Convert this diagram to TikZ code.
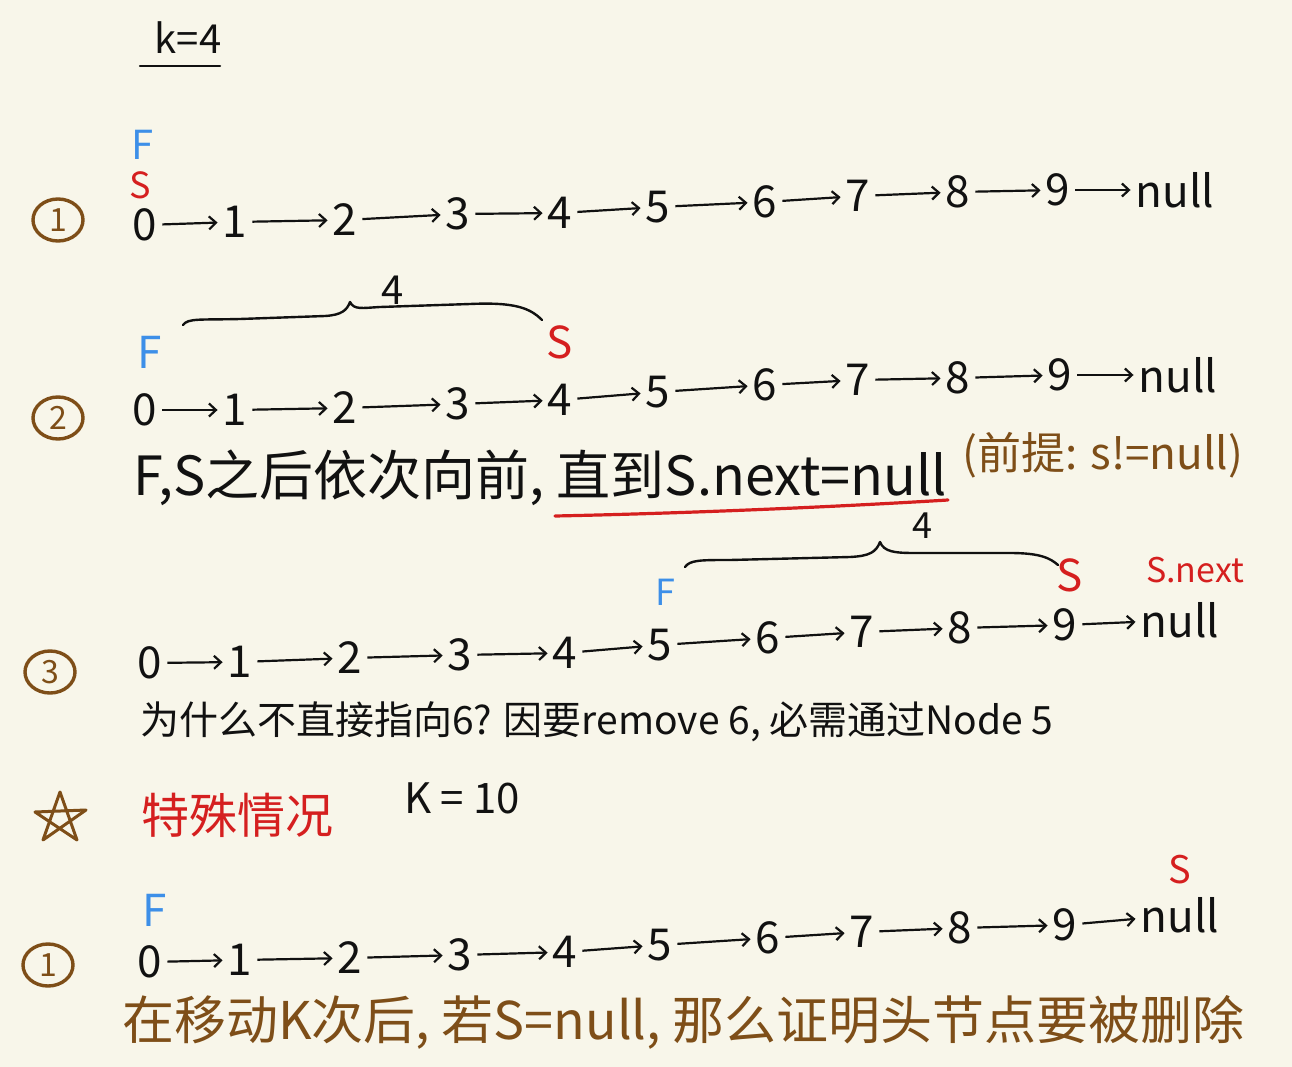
\documentclass[tikz,border=0pt]{standalone}
\usepackage{fontspec}
\setmainfont{Noto Sans CJK SC}
\usetikzlibrary{arrows.meta,shapes.geometric}
\definecolor{bg}{HTML}{F8F6EA}
\definecolor{fblue}{HTML}{3D8FE8}
\definecolor{sred}{HTML}{D51F1F}
\definecolor{brn}{HTML}{7E4E18}
\definecolor{ink}{HTML}{111111}
\newcommand\fsz[1]{\fontsize{#1}{#1}\selectfont}
\newcommand\linkedrow[2]{%
  \foreach \lab/\x/\y [count=\i from 0] in {#2} {\node[num] (#1\i) at (\x,\y) {\lab};}
  \foreach \i [evaluate=\i as \j using int(\i+1)] in {0,...,9} {\draw[link] (#1\i) -- (#1\j);}
}
\begin{document}
\begin{tikzpicture}[x=1pt,y=-1pt,
  num/.style={font=\fsz{44}, text=ink, inner sep=4pt},
  link/.style={line width=2.2pt, draw=ink, -{Straight Barb[length=7pt,width=13pt]}, shorten >=1pt, shorten <=1pt},
  stepnum/.style={ellipse, draw=brn, line width=3.4pt, minimum width=50pt, minimum height=42pt, inner sep=0pt, text=brn, font=\fsz{32}},
  fmark/.style={text=fblue, inner sep=0pt},
  smark/.style={text=sred, inner sep=0pt},
  bracepath/.style={line width=2.4pt, draw=ink, line cap=round, line join=round},
  note/.style={inner sep=0pt, anchor=west}]
\useasboundingbox (0,0) rectangle (1292,1067);
\fill[bg] (0,0) rectangle (1292,1067);

% k=4
\node[inner sep=0pt, font=\fsz{40}, text=ink] (ktitle) at (188,38) {k=4};
\draw[line width=2.5pt, ink, line cap=round] (140,66) -- (220,66);

% ---- row 1
\node[stepnum] (c1) at (58,220) {1};
\node[fmark, font=\fsz{40}] (f1) at (143,145) {F};
\node[smark, font=\fsz{36}] (s1) at (140,185) {S};
\linkedrow{ra}{0/145/225, 1/235/222, 2/345/220, 3/458/214, 4/560/213, 5/658/207, 6/765/202, 7/858/196, 8/958/192, 9/1058/190, null/1175/190}

% ---- row 2
\node[stepnum] (c2) at (58,418) {2};
\node[fmark, font=\fsz{44}] (f2) at (150,352) {F};
\node[smark, font=\fsz{44}] (s2) at (560,342) {S};
\draw[bracepath] (183,325) .. controls (188,318) and (200,320) .. (240,319) -- (325,316) .. controls (342,315) and (347,310) .. (350,302) .. controls (354,310) and (362,308) .. (380,307) -- (470,304) .. controls (515,302) and (530,308) .. (542,320);
\node[inner sep=0pt, font=\fsz{40}, text=ink] (b1) at (393,290) {4};
\linkedrow{rb}{0/145/410, 1/235/410, 2/345/408, 3/458/404, 4/560/400, 5/658/392, 6/765/385, 7/858/380, 8/958/378, 9/1060/375, null/1178/375}

\node[note, font=\fsz{54}, text=ink] (t1) at (133,478) {F,S之后依次向前, 直到S.next=null};
\node[note, font=\fsz{44}, text=brn] (t1b) at (962,455) {(前提: s!=null)};
\draw[sred, line width=3.2pt, line cap=round] (555,516) .. controls (700,513) and (850,506) .. (948,500);

% ---- row 3
\node[stepnum] (c3) at (50,672) {3};
\draw[bracepath] (685,567) .. controls (690,560) and (700,560) .. (730,560) -- (850,557) .. controls (870,556) and (876,552) .. (880,542) .. controls (884,552) and (895,553) .. (915,553) -- (1010,553) .. controls (1040,553) and (1050,558) .. (1058,565);
\node[inner sep=0pt, font=\fsz{36}, text=ink] (b2) at (922,526) {4};
\node[fmark, font=\fsz{36}] (f3) at (665,592) {F};
\node[smark, font=\fsz{44}] (s3) at (1070,575) {S};
\node[smark, font=\fsz{34}] (sn3) at (1195,570) {S.next};
\linkedrow{rc}{0/150/663, 1/240/662, 2/350/658, 3/460/655, 4/565/653, 5/660/645, 6/768/638, 7/862/632, 8/960/628, 9/1065/625, null/1180/620}

\node[note, font=\fsz{39}, text=ink] (t2) at (140,722) {为什么不直接指向6? 因要remove 6, 必需通过Node 5};

% ---- special case
\draw[brn, line width=3pt, line join=round, line cap=round]
  (60,792) -- (77,840) -- (35,812) -- (86,810) -- (43,840) -- cycle;
\node[inner sep=0pt, font=\fsz{48}, text=sred] (sp) at (237,815) {特殊情况};
\node[inner sep=0pt, font=\fsz{42}, text=ink] (k10) at (462,798) {K = 10};

% ---- row 4
\node[stepnum] (c4) at (48,965) {1};
\node[fmark, font=\fsz{44}] (f4) at (155,910) {F};
\node[smark, font=\fsz{38}] (s4) at (1180,870) {S};
\linkedrow{rd}{0/150/962, 1/240/960, 2/350/958, 3/460/955, 4/565/952, 5/660/945, 6/768/938, 7/862/932, 8/960/928, 9/1065/925, null/1180/915}

\node[note, font=\fsz{52}, text=brn] (t3) at (122,1022) {在移动K次后, 若S=null, 那么证明头节点要被删除};
\end{tikzpicture}
\end{document}
